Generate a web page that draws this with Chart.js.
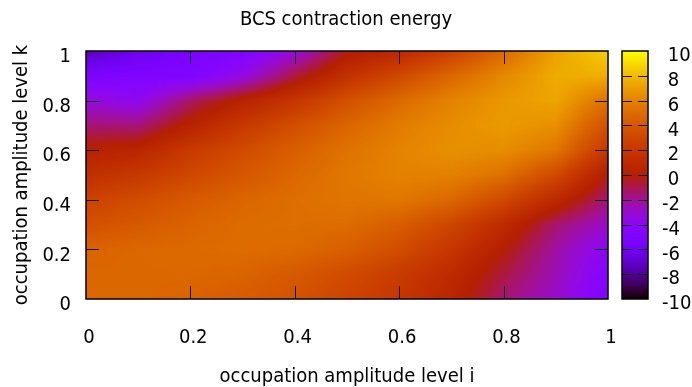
<!DOCTYPE html>
<html>
<head>
<meta charset="utf-8">
<title>BCS contraction energy</title>
<script src="https://cdn.jsdelivr.net/npm/chart.js@4.4.0/dist/chart.umd.min.js"></script>
<style>
  html, body { margin: 0; padding: 0; background: #fff; }
</style>
</head>
<body>
<canvas id="bcs" width="692" height="387"></canvas>
<script>
// Grid of occupation amplitudes
const levelI = [0, 0.1, 0.2, 0.3, 0.4, 0.5, 0.6, 0.7, 0.8, 0.9, 1];
const levelK = [0, 0.1, 0.2, 0.3, 0.4, 0.5, 0.6, 0.7, 0.8, 0.9, 1];

// Contraction energy, one row per k (bottom to top), one column per i
const energy = [
  [4.8, 4.8, 4.6, 4.2, 3.7, 2.9, 2.0, 0.6, -1.5, -2.9, -5.0],
  [4.8, 4.8, 4.8, 4.6, 4.1, 3.3, 2.3, 1.0, -0.8, -2.5, -4.7],
  [4.6, 4.8, 4.9, 5.0, 4.9, 4.4, 3.4, 1.9, 0.0, -2.2, -4.1],
  [3.6, 4.1, 4.6, 5.0, 5.1, 5.0, 4.3, 3.0, 1.0, -1.4, -2.9],
  [2.7, 3.4, 4.1, 4.7, 5.1, 5.4, 5.5, 4.8, 3.2, 0.9, -1.6],
  [1.4, 2.1, 3.1, 4.0, 4.8, 5.5, 6.0, 5.9, 5.2, 3.2, -0.2],
  [0.2, 0.6, 2.2, 3.3, 4.4, 5.3, 6.0, 6.5, 6.4, 5.5, 2.0],
  [-1.5, -1.6, 0.4, 2.1, 3.5, 4.7, 5.7, 6.4, 6.9, 6.5, 3.6],
  [-3.2, -3.8, -1.3, 0.4, 1.9, 3.6, 4.9, 6.0, 6.8, 7.3, 5.2],
  [-5.2, -5.0, -5.0, -3.5, -0.8, 1.5, 3.2, 4.8, 6.2, 7.5, 7.6],
  [-7.5, -6.2, -5.4, -5.0, -3.3, -0.3, 0.8, 2.7, 4.9, 7.2, 8.7],
];

const axisTicks = [0, 0.2, 0.4, 0.6, 0.8, 1];
const cbTicks = [-10, -8, -6, -4, -2, 0, 2, 4, 6, 8, 10];
const cbMin = -10;
const cbMax = 10;

const FONT = { family: "'DejaVu Sans Condensed', 'DejaVu Sans', sans-serif", size: 20 };
const TICK_LEN = 13;

// gnuplot default palette (rgbformulae 7,5,15)
function palette(t) {
  t = Math.min(1, Math.max(0, t));
  return [
    Math.round(255 * Math.sqrt(t)),
    Math.round(255 * t * t * t),
    Math.round(255 * Math.max(0, Math.sin(2 * Math.PI * t))),
  ];
}

function findCell(levels, v) {
  let n = levels.length - 2;
  for (let j = 0; j < levels.length - 1; j++) {
    if (v <= levels[j + 1]) { n = j; break; }
  }
  const f = (v - levels[n]) / (levels[n + 1] - levels[n]);
  return [n, Math.min(1, Math.max(0, f))];
}

function energyAt(i, k) {
  const [ci, fi] = findCell(levelI, i);
  const [ck, fk] = findCell(levelK, k);
  const a = energy[ck][ci], b = energy[ck][ci + 1];
  const c = energy[ck + 1][ci], d = energy[ck + 1][ci + 1];
  return (a * (1 - fi) + b * fi) * (1 - fk) + (c * (1 - fi) + d * fi) * fk;
}

const heatmap = {
  id: 'heatmap',
  beforeDatasetsDraw(chart) {
    const { ctx, chartArea: area, scales } = chart;
    const x = scales.x, y = scales.y;
    const left = Math.round(area.left), top = Math.round(area.top);
    const w = Math.round(area.right) - left, h = Math.round(area.bottom) - top;
    const img = ctx.createImageData(w, h);
    for (let py = 0; py < h; py++) {
      const k = y.getValueForPixel(top + py + 0.5);
      for (let px = 0; px < w; px++) {
        const i = x.getValueForPixel(left + px + 0.5);
        const [r, g, b] = palette((energyAt(i, k) - cbMin) / (cbMax - cbMin));
        const o = (py * w + px) * 4;
        img.data[o] = r; img.data[o + 1] = g; img.data[o + 2] = b; img.data[o + 3] = 255;
      }
    }
    ctx.putImageData(img, left, top);
  },
  afterDatasetsDraw(chart) {
    const { ctx, chartArea: area, scales } = chart;
    const x = scales.x, y = scales.y, cb = scales.cb;
    ctx.save();

    // colour box
    const cbLeft = Math.round(area.right) + 14;
    const cbWidth = 26;
    const cbTop = Math.round(cb.getPixelForValue(cbMax));
    const cbBottom = Math.round(cb.getPixelForValue(cbMin));
    for (let py = cbTop; py < cbBottom; py++) {
      const [r, g, b] = palette((cb.getValueForPixel(py + 0.5) - cbMin) / (cbMax - cbMin));
      ctx.fillStyle = `rgb(${r},${g},${b})`;
      ctx.fillRect(cbLeft, py, cbWidth, 1);
    }

    ctx.strokeStyle = 'rgba(0,0,0,0.9)';
    ctx.lineWidth = 1;
    ctx.beginPath();
    axisTicks.slice(1, -1).forEach(v => {
      const px = Math.round(x.getPixelForValue(v)) + 0.5;
      ctx.moveTo(px, area.bottom); ctx.lineTo(px, area.bottom - TICK_LEN);
      ctx.moveTo(px, area.top); ctx.lineTo(px, area.top + TICK_LEN);
      const py = Math.round(y.getPixelForValue(v)) + 0.5;
      ctx.moveTo(area.left, py); ctx.lineTo(area.left + TICK_LEN, py);
      ctx.moveTo(area.right, py); ctx.lineTo(area.right - TICK_LEN, py);
    });
    cbTicks.slice(1, -1).forEach(v => {
      const py = Math.round(cb.getPixelForValue(v)) + 0.5;
      ctx.moveTo(cbLeft, py); ctx.lineTo(cbLeft + 10, py);
      ctx.moveTo(cbLeft + cbWidth, py); ctx.lineTo(cbLeft + cbWidth - 10, py);
    });
    ctx.stroke();

    // borders
    ctx.strokeStyle = '#000';
    ctx.lineWidth = 1.5;
    ctx.strokeRect(area.left, area.top, area.right - area.left, area.bottom - area.top);
    ctx.strokeRect(cbLeft, cbTop, cbWidth, cbBottom - cbTop);
    ctx.restore();
  },
};

const nodes = [];
levelK.forEach((k, r) => levelI.forEach((i, c) => nodes.push({ x: i, y: k, v: energy[r][c] })));

const fixedTicks = list => scale => { scale.ticks = list.map(v => ({ value: v })); };

// tick marks themselves are drawn by the plugin; tickLength only spaces the labels
const hiddenGrid = len => ({ display: false, drawTicks: true, tickLength: len });

new Chart(document.getElementById('bcs'), {
  type: 'scatter',
  data: {
    datasets: [{ label: 'energy', data: nodes, pointRadius: 0, pointHoverRadius: 0 }],
  },
  plugins: [heatmap],
  options: {
    responsive: false,
    animation: false,
    events: [],
    layout: { padding: 0 },
    plugins: {
      legend: { display: false },
      tooltip: { enabled: false },
      title: {
        display: true,
        text: 'BCS contraction energy',
        color: '#000',
        font: { ...FONT, weight: 'normal' },
        padding: { top: 8, bottom: 19 },
      },
    },
    scales: {
      x: {
        type: 'linear',
        position: 'bottom',
        min: 0,
        max: 1,
        afterBuildTicks: fixedTicks(axisTicks),
        afterFit: s => { s.height = 88; },
        grid: hiddenGrid(27),
        border: { display: false },
        ticks: { color: '#000', font: FONT, padding: 0, maxRotation: 0, autoSkip: false, callback: v => ' ' + v },
        title: {
          display: true,
          text: 'occupation amplitude level i',
          color: '#000',
          font: { ...FONT, lineHeight: 1 },
          padding: { top: 0, bottom: 0 },
        },
      },
      y: {
        type: 'linear',
        position: 'left',
        min: 0,
        max: 1,
        afterBuildTicks: fixedTicks(axisTicks),
        afterFit: s => { s.width = 86; },
        grid: hiddenGrid(15),
        border: { display: false },
        ticks: { color: '#000', font: FONT, padding: 0, labelOffset: 6, autoSkip: false, callback: v => ' ' + v },
        title: {
          display: true,
          text: 'occupation amplitude level k',
          color: '#000',
          font: FONT,
          padding: { top: 10, bottom: 0 },
        },
      },
      cb: {
        type: 'linear',
        position: 'right',
        min: cbMin,
        max: cbMax,
        afterBuildTicks: fixedTicks(cbTicks),
        afterFit: s => { s.width = 84; },
        grid: hiddenGrid(54),
        border: { display: false },
        ticks: { color: '#000', font: FONT, padding: 0, labelOffset: 5, autoSkip: false, callback: v => (v < 0 ? '' : ' ') + v },
      },
    },
  },
});
</script>
</body>
</html>
